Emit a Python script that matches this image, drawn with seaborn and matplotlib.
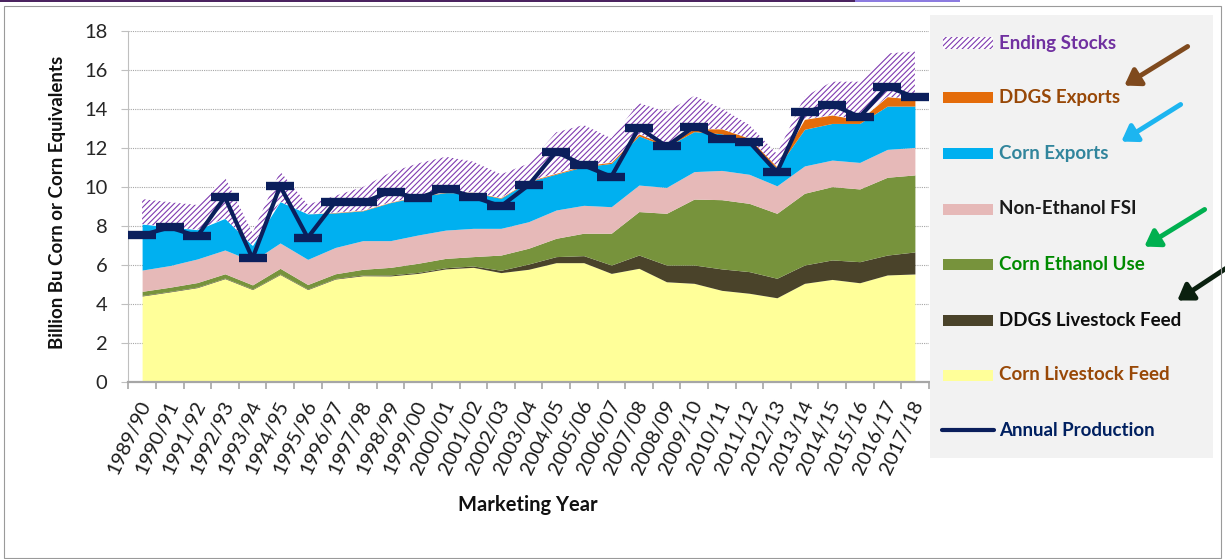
import numpy as np
import matplotlib
matplotlib.use("Agg")
import matplotlib.pyplot as plt
import matplotlib.transforms as mtransforms
import seaborn as sns
from matplotlib.patches import Rectangle, FancyArrowPatch
from matplotlib.lines import Line2D

# marketing years
years = ["1989/90", "1990/91", "1991/92", "1992/93", "1993/94", "1994/95", "1995/96",
         "1996/97", "1997/98", "1998/99", "1999/00", "2000/01", "2001/02", "2002/03",
         "2003/04", "2004/05", "2005/06", "2006/07", "2007/08", "2008/09", "2009/10",
         "2010/11", "2011/12", "2012/13", "2013/14", "2014/15", "2015/16", "2016/17",
         "2017/18"]

# billion bushels (corn or corn equivalents)
corn_livestock_feed = [4.41, 4.62, 4.84, 5.30, 4.74, 5.51, 4.74, 5.28, 5.45, 5.44, 5.57, 5.80,
                       5.88, 5.61, 5.78, 6.12, 6.12, 5.57, 5.83, 5.14, 5.06, 4.70, 4.55, 4.32,
                       5.06, 5.26, 5.09, 5.49, 5.54]
ddgs_livestock_feed = [0.03, 0.03, 0.03, 0.03, 0.03, 0.03, 0.03, 0.03, 0.04, 0.05, 0.05, 0.06,
                       0.07, 0.12, 0.27, 0.31, 0.36, 0.43, 0.68, 0.86, 0.94, 1.10, 1.11, 1.00,
                       0.94, 1.00, 1.08, 1.02, 1.13]
corn_ethanol_use = [0.21, 0.21, 0.23, 0.22, 0.21, 0.29, 0.23, 0.24, 0.29, 0.39, 0.47, 0.48,
                    0.48, 0.78, 0.81, 0.94, 1.15, 1.63, 2.23, 2.65, 3.38, 3.55, 3.50, 3.33,
                    3.68, 3.76, 3.73, 3.99, 3.95]
non_ethanol_fsi = [1.09, 1.11, 1.21, 1.22, 1.22, 1.30, 1.29, 1.35, 1.47, 1.37, 1.45, 1.45,
                   1.45, 1.37, 1.36, 1.45, 1.43, 1.36, 1.36, 1.33, 1.41, 1.50, 1.49, 1.41,
                   1.40, 1.36, 1.36, 1.43, 1.41]
corn_exports = [2.36, 1.98, 1.50, 1.62, 0.80, 2.12, 2.33, 1.77, 1.53, 1.95, 1.96, 1.92,
                1.83, 1.54, 2.05, 1.84, 1.98, 2.22, 2.52, 2.09, 2.05, 1.88, 1.59, 0.90,
                1.88, 1.88, 2.00, 2.22, 2.12]
ddgs_exports = [0.0, 0.0, 0.0, 0.0, 0.0, 0.0, 0.0, 0.02, 0.02, 0.02, 0.02, 0.02,
                0.02, 0.03, 0.03, 0.04, 0.04, 0.06, 0.10, 0.08, 0.14, 0.25, 0.26, 0.08,
                0.51, 0.43, 0.18, 0.48, 0.35]
ending_stocks = [1.28, 1.27, 1.27, 2.11, 0.65, 1.55, 0.48, 0.86, 1.20, 1.53, 1.69, 1.82,
                 1.57, 1.20, 0.90, 2.10, 2.10, 1.23, 1.58, 1.71, 1.69, 1.05, 0.68, 0.66,
                 1.16, 1.71, 1.96, 2.22, 2.45]
annual_production = [7.53, 7.93, 7.47, 9.48, 6.34, 10.05, 7.40, 9.23, 9.21, 9.76, 9.43, 9.92,
                     9.50, 9.01, 10.09, 11.81, 11.11, 10.53, 13.04, 12.09, 13.09, 12.45, 12.31,
                     10.76, 13.83, 14.22, 13.60, 15.15, 14.60]

legend_labels = ["Ending Stocks", "DDGS Exports", "Corn Exports", "Non-Ethanol FSI",
                 "Corn Ethanol Use", "DDGS Livestock Feed", "Corn Livestock Feed",
                 "Annual Production"]

sns.set_theme(style="white")
plt.rcParams['font.family'] = ['Lato', 'DejaVu Sans']
plt.rcParams['hatch.linewidth'] = 0.8

W, H = 1225, 559
fig = plt.figure(figsize=(W / 100, H / 100), dpi=100)
fig.patch.set_facecolor('white')

def fx(px):
    return px / W

def fy(py):
    return 1 - py / H

ax = fig.add_axes([fx(128.3), fy(382), 800.4 / W, 351 / H])

x = np.arange(len(years))
layers = [corn_livestock_feed, ddgs_livestock_feed, corn_ethanol_use, non_ethanol_fsi,
          corn_exports, ddgs_exports]
layer_colors = ['#FFFF99', '#4A432A', '#77933C', '#E6B9B8', '#00B0F0', '#E46C0A']
ax.stackplot(x, layers, colors=layer_colors, linewidth=0, zorder=2)

base = np.sum(np.array(layers), axis=0)
ax.fill_between(x, base, base + np.array(ending_stocks), facecolor='white',
                edgecolor='#7F3AB0', hatch='//////', linewidth=0, zorder=2)

sns.lineplot(x=x, y=annual_production, ax=ax, color='#0B1F5C', lw=3, marker='_',
             markersize=19.5, markeredgewidth=6, markeredgecolor='#0B1F5C', zorder=5,
             clip_on=False)

# axes styling
ax.set_xlim(-0.5, len(years) - 0.5)
ax.set_ylim(0, 18)
ax.set_yticks(np.arange(0, 19, 2))
ax.set_axisbelow(True)
ax.yaxis.grid(True, linestyle=(0, (1, 1)), color='#a6a6a6', lw=0.8)
ax.xaxis.grid(False)
for s in ['top', 'right']:
    ax.spines[s].set_visible(False)
ax.spines['left'].set_color('#bfbfbf')
ax.spines['left'].set_linewidth(0.8)
ax.spines['bottom'].set_color('#a6a6a6')
ax.spines['bottom'].set_linewidth(1.6)

ax.set_xticks(x)
ax.set_xticks(np.arange(-0.5, len(years), 1), minor=True)
ax.set_xticklabels(years, rotation=65, ha='right', va='center', rotation_mode='anchor')
ax.tick_params(axis='x', which='major', length=0, pad=14, labelsize=14.5, labelcolor='#1a1a1a')
ax.tick_params(axis='x', which='minor', bottom=True, length=5, width=1.2, color='#a6a6a6')
ax.tick_params(axis='y', left=True, length=5, width=0.8, color='#bfbfbf', pad=10,
               labelsize=14.5, labelcolor='#262626')
shift = mtransforms.ScaledTranslation(4 / 100, 0, fig.dpi_scale_trans)
for lab in ax.get_xticklabels():
    lab.set_transform(lab.get_transform() + shift)

ax.set_ylabel("Billion Bu Corn or Corn Equivalents", fontsize=13.5, fontweight='bold',
              color='#111111')
ax.yaxis.set_label_coords(-0.078, 0.511)
fig.text(fx(528), fy(505), "Marketing Year", ha='center', va='center', fontsize=14.5,
         fontweight='bold', color='#111111')

# legend panel
fig.patches.append(Rectangle((fx(930), fy(458)), 283 / W, 443 / H, transform=fig.transFigure,
                             facecolor='#F2F2F2', edgecolor='none', zorder=0))
label_colors = ['#7030A0', '#984807', '#31859C', '#1A1A1A', '#008A00', '#0D0D0D',
                '#984807', '#002060']
row_y = [43, 98, 154, 209, 264, 320, 375, 430]
for i, (lab, col, ry) in enumerate(zip(legend_labels, label_colors, row_y)):
    if i == 0:
        fig.patches.append(Rectangle((fx(943), fy(ry + 6)), 50 / W, 12 / H,
                                     transform=fig.transFigure, facecolor='white',
                                     edgecolor='#7F3AB0', hatch='//////', linewidth=0,
                                     zorder=3))
    elif i < 7:
        fig.patches.append(Rectangle((fx(943), fy(ry + 5.5)), 50 / W, 11 / H,
                                     transform=fig.transFigure,
                                     facecolor=layer_colors[6 - i], edgecolor='none',
                                     zorder=3))
    else:
        fig.lines.append(Line2D([fx(942), fx(994)], [fy(ry), fy(ry)],
                                transform=fig.transFigure, color='#0B1F5C', lw=3,
                                zorder=3))
    fig.text(fx(999), fy(ry), lab, ha='left', va='center', fontsize=13.5,
             fontweight='bold', color=col, zorder=4)

# pointer arrows
arrows = [((1190, 45), (1122, 87), '#7F4A1E'),
          ((1183, 103), (1119, 143), '#1DB5F0'),
          ((1207, 208), (1142, 248), '#00B050'),
          ((1228, 267), (1175, 302), '#0A200F')]
for (x0, y0), (x1, y1), c in arrows:
    fig.patches.append(FancyArrowPatch((fx(x0), fy(y0)), (fx(x1), fy(y1)),
                                       transform=fig.transFigure,
                                       arrowstyle='-|>,head_length=0.6,head_width=0.4',
                                       mutation_scale=15, lw=3.5, color=c, zorder=5))

# outer frame and slide remnants
fig.patches.append(Rectangle((fx(4), fy(558)), 1217 / W, 552 / H, transform=fig.transFigure,
                             facecolor='none', edgecolor='#9a9a9a', lw=0.8, zorder=6))
fig.patches.append(Rectangle((0, fy(2)), fx(855), 2 / H, transform=fig.transFigure,
                             facecolor='#4B2360', edgecolor='none', zorder=6))
fig.patches.append(Rectangle((fx(855), fy(2)), 105 / W, 2 / H, transform=fig.transFigure,
                             facecolor='#8C7BE0', edgecolor='none', zorder=6))

fig.savefig("out.png", dpi=100)
